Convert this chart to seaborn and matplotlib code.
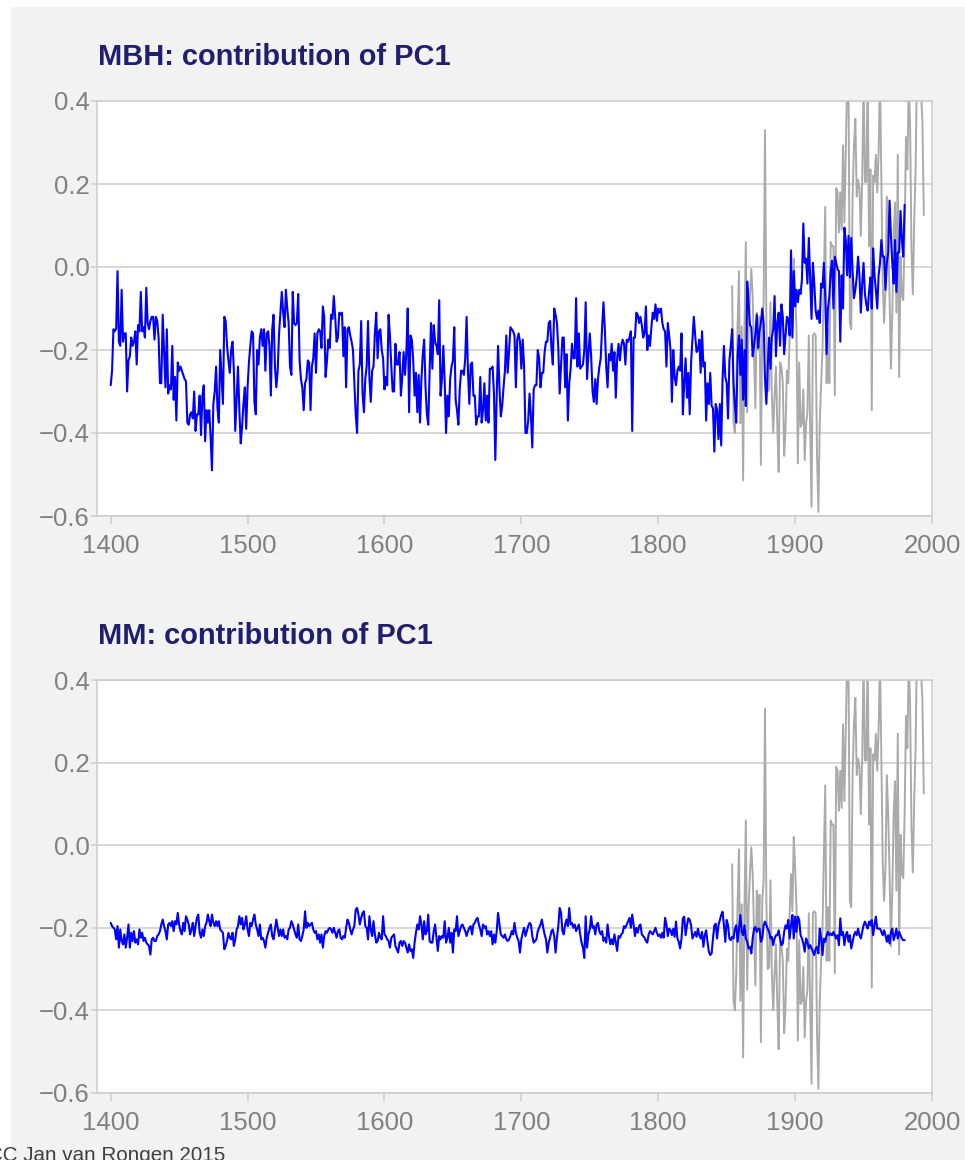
import numpy as np
import pandas as pd
import matplotlib
matplotlib.use("Agg")
import matplotlib.pyplot as plt
from matplotlib.patches import Rectangle
import seaborn as sns

# ---------------- data ----------------
start_year = 1400

mbh_1400 = [
    -0.285, -0.25, -0.15, -0.155, -0.148, -0.01, -0.18, -0.19, -0.055, -0.18,
    -0.16, -0.16, -0.30, -0.225, -0.215, -0.17, -0.19, -0.18, -0.155,
    -0.235, -0.14, -0.155, -0.06, -0.155, -0.145, -0.17, -0.05, -0.135, -0.15,
    -0.13, -0.12, -0.12, -0.175, -0.12, -0.13, -0.17, -0.28, -0.28, -0.115,
    -0.20, -0.29, -0.15, -0.305, -0.285, -0.295, -0.19, -0.32, -0.265, -0.37,
    -0.23, -0.25, -0.24, -0.25, -0.26, -0.27, -0.275, -0.375, -0.38,
    -0.355, -0.35, -0.365, -0.30, -0.395, -0.355, -0.355, -0.31, -0.405, -0.31,
    -0.285, -0.42, -0.345, -0.375, -0.345, -0.41, -0.49, -0.33, -0.30, -0.24,
    -0.34, -0.375, -0.20, -0.265, -0.33, -0.12, -0.13, -0.19, -0.225, -0.255,
    -0.20, -0.18, -0.25, -0.395, -0.32, -0.24, -0.345, -0.425, -0.385, -0.33,
    -0.29, -0.39, -0.29, -0.23, -0.19, -0.155, -0.16, -0.325, -0.355, -0.20,
    -0.235, -0.17, -0.15, -0.19, -0.15, -0.25, -0.16, -0.155, -0.19,
    -0.31, -0.15, -0.115, -0.24, -0.29, -0.25, -0.16, -0.11, -0.06,
    -0.11, -0.145, -0.055, -0.10, -0.135, -0.24, -0.26, -0.06, -0.135, -0.14,
    -0.135, -0.065, -0.225, -0.27, -0.29, -0.345, -0.28, -0.27, -0.225, -0.23,
    -0.345, -0.24, -0.22, -0.16, -0.255, -0.16, -0.15, -0.155, -0.195, -0.095,
    -0.12, -0.265, -0.225, -0.175, -0.195, -0.115, -0.125, -0.07, -0.12, -0.18,
    -0.17, -0.11, -0.115, -0.11, -0.215, -0.145, -0.29, -0.15, -0.145, -0.165,
    -0.18, -0.20, -0.28, -0.355, -0.40, -0.25, -0.235, -0.13, -0.305, -0.35,
    -0.27, -0.24, -0.13, -0.265, -0.325, -0.25, -0.24, -0.16, -0.11, -0.22, -0.155,
]
mbh_1597 = [
    -0.15, -0.20, -0.22, -0.295, -0.265, -0.285, -0.115, -0.165, -0.24, -0.30,
    -0.30, -0.185, -0.235, -0.235, -0.205, -0.31, -0.265, -0.205, -0.26, -0.205,
    -0.10, -0.35, -0.165, -0.175, -0.225, -0.31, -0.255, -0.35, -0.26, -0.375,
    -0.27, -0.21, -0.175, -0.29, -0.355, -0.38, -0.25, -0.135, -0.245, -0.14,
    -0.18, -0.19, -0.21, -0.08, -0.31, -0.27, -0.19, -0.275, -0.40,
    -0.31, -0.36, -0.27, -0.24, -0.225, -0.145, -0.32, -0.345, -0.38,
    -0.295, -0.25, -0.25, -0.26, -0.22, -0.12, -0.25, -0.33, -0.235,
    -0.23, -0.31, -0.31, -0.38, -0.36, -0.36, -0.265, -0.375, -0.345, -0.28,
    -0.37, -0.31, -0.375, -0.245, -0.245, -0.24, -0.305, -0.465, -0.31, -0.19,
    -0.29, -0.36, -0.335, -0.29, -0.25, -0.165, -0.255, -0.205, -0.145, -0.15,
    -0.155, -0.165, -0.29, -0.175, -0.16, -0.18, -0.245, -0.175, -0.24,
    -0.40, -0.40, -0.37, -0.305, -0.36, -0.435, -0.295, -0.285, -0.285, -0.20,
    -0.22, -0.29, -0.255, -0.255, -0.205, -0.18, -0.18, -0.135, -0.13, -0.195,
    -0.235, -0.10, -0.115, -0.135, -0.195, -0.305, -0.235, -0.17, -0.17,
    -0.29, -0.21, -0.37, -0.28, -0.245, -0.185, -0.22, -0.22, -0.075,
    -0.24, -0.16, -0.245, -0.24, -0.235, -0.20, -0.085, -0.27, -0.21, -0.16,
    -0.215, -0.30, -0.325, -0.27, -0.33, -0.27, -0.24, -0.22, -0.145, -0.085,
    -0.15, -0.24, -0.29, -0.21, -0.225, -0.185, -0.25, -0.205, -0.315,
    -0.22, -0.185, -0.225, -0.19, -0.175, -0.185, -0.235, -0.175, -0.18, -0.17,
    -0.155, -0.395, -0.17, -0.17, -0.11, -0.115, -0.135, -0.12, -0.14,
    -0.17, -0.16, -0.095, -0.20, -0.165, -0.19, -0.145, -0.11, -0.125, -0.09,
    -0.13, -0.10, -0.11, -0.10, -0.135, -0.15, -0.155, -0.24, -0.135,
]
mbh_1808 = [
    -0.165, -0.20, -0.325, -0.20, -0.265, -0.285, -0.25, -0.24, -0.25, -0.16,
    -0.355, -0.28, -0.22, -0.315, -0.255, -0.355, -0.23, -0.175, -0.12,
    -0.165, -0.205, -0.20, -0.175, -0.255, -0.155, -0.24, -0.23, -0.37, -0.28,
    -0.33, -0.255, -0.335, -0.34, -0.445, -0.33, -0.345, -0.415, -0.33, -0.43,
    -0.27, -0.19, -0.265, -0.28, -0.365, -0.225, -0.19, -0.15, -0.28, -0.335,
    -0.375, -0.215, -0.165, -0.26, -0.175, -0.32, -0.20, -0.335, -0.035,
    -0.085, -0.14, -0.145, -0.215, -0.19, -0.16, -0.115, -0.195, -0.155,
    -0.135, -0.10, -0.135, -0.27, -0.33, -0.24, -0.17, -0.245, -0.17, -0.15,
    -0.07, -0.215, -0.135, -0.11, -0.19, -0.09, -0.12, -0.21, -0.165, -0.12,
    -0.125, -0.165, 0.04, -0.17, -0.01, -0.095, -0.055, -0.085, -0.055, -0.065,
    -0.03, 0.105, 0.01, 0.02, -0.04, 0.07, -0.03, -0.125, 0.01, -0.04,
    -0.105, -0.125, -0.105, -0.135, -0.04, -0.05, 0.01, -0.07, -0.21, -0.10,
    -0.07, -0.01, 0.015, -0.10, 0.025, 0.01, -0.005, -0.01, -0.18,
    -0.02, -0.10, 0.095, 0.065, -0.02, 0.075, -0.025, 0.07, -0.01, -0.075,
    -0.055, -0.025, 0.025, -0.02, -0.11, -0.04, 0.01, -0.065, -0.09, -0.105,
    -0.06, -0.025, -0.10, 0.045, -0.02, -0.055, -0.10, -0.02, 0.01, 0.065,
    0.025, 0.025, -0.055, 0.01, 0.035, 0.16, 0.075, 0.01, -0.04, 0.065,
    -0.06, 0.035, 0.035, 0.135, 0.065, 0.025, 0.15,
]

mm_1400 = [
    -0.188, -0.196, -0.20, -0.204, -0.228, -0.196, -0.248, -0.204, -0.232, -0.24,
    -0.216, -0.248, -0.224, -0.192, -0.248, -0.212, -0.232, -0.208, -0.236, -0.228,
    -0.24, -0.204, -0.224, -0.212, -0.232, -0.224, -0.236, -0.24, -0.244, -0.265,
    -0.228, -0.224, -0.232, -0.232, -0.22, -0.216, -0.208, -0.192, -0.18,
    -0.196, -0.208, -0.228, -0.192, -0.188, -0.196, -0.184, -0.208, -0.184,
    -0.192, -0.164, -0.192, -0.208, -0.216, -0.188, -0.208, -0.172, -0.18, -0.192,
    -0.216, -0.204, -0.188, -0.22, -0.196, -0.176, -0.168, -0.212, -0.224, -0.204,
    -0.22, -0.196, -0.188, -0.168, -0.184, -0.196, -0.168, -0.188, -0.196,
    -0.184, -0.196, -0.184, -0.204, -0.208, -0.212, -0.252, -0.244, -0.232, -0.212,
    -0.224, -0.228, -0.212, -0.244, -0.228, -0.204, -0.196, -0.172, -0.192, -0.176,
    -0.204, -0.192, -0.172, -0.204, -0.22, -0.188, -0.196, -0.18, -0.168, -0.192,
    -0.204, -0.22, -0.192, -0.228, -0.224, -0.232, -0.248, -0.224, -0.212, -0.20,
    -0.192, -0.22, -0.228, -0.204, -0.18, -0.20, -0.22, -0.204, -0.22,
    -0.204, -0.224, -0.22, -0.228, -0.204, -0.20, -0.184, -0.192, -0.204, -0.216,
    -0.224, -0.192, -0.228, -0.232, -0.22, -0.204, -0.16, -0.20, -0.188, -0.196,
    -0.192, -0.188, -0.204, -0.212, -0.208, -0.228, -0.216, -0.236, -0.216,
    -0.248, -0.22, -0.208, -0.212, -0.204, -0.20, -0.204, -0.212, -0.20, -0.212,
    -0.224, -0.208, -0.204, -0.224, -0.228, -0.22, -0.224, -0.20, -0.18, -0.188,
    -0.204, -0.216, -0.204, -0.196, -0.156, -0.152, -0.168, -0.192, -0.176, -0.164,
    -0.16, -0.196, -0.20, -0.228, -0.172, -0.204, -0.22, -0.184, -0.216, -0.236,
    -0.232, -0.212, -0.224, -0.228, -0.172, -0.216, -0.22, -0.228, -0.232,
    -0.248, -0.224, -0.22, -0.216, -0.244, -0.252, -0.26,
]
mm_1611 = [
    -0.236, -0.232, -0.244, -0.232, -0.236, -0.248, -0.26, -0.24, -0.256, -0.252,
    -0.273, -0.236, -0.212, -0.192, -0.204, -0.172, -0.192, -0.228, -0.184, -0.216,
    -0.208, -0.168, -0.232, -0.236, -0.236, -0.208, -0.192, -0.224,
    -0.256, -0.22, -0.228, -0.22, -0.224, -0.184, -0.236, -0.224, -0.20, -0.236,
    -0.212, -0.26, -0.204, -0.208, -0.172, -0.22, -0.208, -0.196, -0.192, -0.20,
    -0.208, -0.22, -0.208, -0.20, -0.196, -0.216, -0.192, -0.188, -0.18, -0.176,
    -0.192, -0.204, -0.22, -0.192, -0.20, -0.196, -0.216, -0.208,
    -0.22, -0.208, -0.24, -0.216, -0.236, -0.208, -0.164, -0.192, -0.216, -0.22,
    -0.224, -0.216, -0.228, -0.232, -0.228, -0.22, -0.208, -0.216, -0.188, -0.212,
    -0.224, -0.232, -0.26, -0.228, -0.212, -0.20, -0.22, -0.208, -0.196, -0.188,
    -0.192, -0.22, -0.236, -0.232, -0.228, -0.208, -0.20, -0.192, -0.18, -0.20,
    -0.216, -0.228, -0.26, -0.236, -0.224, -0.208, -0.204, -0.22, -0.26, -0.224,
    -0.196, -0.152, -0.164, -0.208, -0.216, -0.192, -0.18, -0.196, -0.152, -0.192,
    -0.188, -0.20, -0.192, -0.208, -0.20, -0.192, -0.216, -0.236, -0.248,
    -0.273, -0.172, -0.248, -0.216, -0.204, -0.172, -0.20, -0.196, -0.216, -0.192,
    -0.188, -0.208, -0.216, -0.208, -0.232, -0.224, -0.236, -0.192, -0.22, -0.24,
    -0.228, -0.24, -0.216, -0.236, -0.256, -0.22, -0.224, -0.216, -0.212, -0.196,
    -0.20, -0.192, -0.184, -0.176, -0.20, -0.168, -0.192, -0.22, -0.20,
    -0.212, -0.196, -0.192, -0.216, -0.22, -0.224, -0.232, -0.236, -0.216, -0.208,
    -0.212, -0.216, -0.208, -0.20, -0.212, -0.22, -0.216, -0.224, -0.212, -0.224,
    -0.176, -0.192, -0.22,
]
mm_1808 = [
    -0.202, -0.206, -0.218, -0.202, -0.222, -0.185, -0.226, -0.234, -0.25, -0.226,
    -0.177, -0.173, -0.218, -0.194, -0.177, -0.181, -0.194, -0.226, -0.218,
    -0.21, -0.222, -0.202, -0.218, -0.226, -0.21, -0.246, -0.218, -0.206, -0.234,
    -0.258, -0.266, -0.262, -0.226, -0.194, -0.19, -0.226, -0.194, -0.181, -0.169,
    -0.161, -0.194, -0.234, -0.181, -0.194, -0.226, -0.23, -0.222, -0.226,
    -0.202, -0.194, -0.234, -0.202, -0.169, -0.21, -0.218, -0.194, -0.226, -0.234,
    -0.25, -0.246, -0.262, -0.226, -0.202, -0.198, -0.21, -0.202, -0.202,
    -0.234, -0.226, -0.194, -0.185, -0.194, -0.202, -0.21, -0.226, -0.222, -0.242,
    -0.226, -0.218, -0.218, -0.206, -0.226, -0.242, -0.238, -0.21, -0.194, -0.202,
    -0.181, -0.226, -0.194, -0.169, -0.226, -0.173, -0.21, -0.173, -0.181, -0.218,
    -0.226, -0.238, -0.258, -0.226, -0.234, -0.25, -0.242, -0.25, -0.258, -0.266,
    -0.25, -0.246, -0.262, -0.202, -0.226, -0.266, -0.226, -0.234, -0.218, -0.21,
    -0.218, -0.214, -0.218, -0.21, -0.218, -0.226, -0.218, -0.242, -0.177,
    -0.218, -0.21, -0.242, -0.218, -0.21, -0.234, -0.218, -0.25, -0.234, -0.218,
    -0.21, -0.218, -0.202, -0.218, -0.226, -0.21, -0.194, -0.185, -0.194, -0.202,
    -0.185, -0.194, -0.181, -0.218, -0.194, -0.173, -0.202, -0.202, -0.202, -0.21,
    -0.218, -0.206, -0.218, -0.234, -0.218, -0.238, -0.21, -0.202, -0.23, -0.218,
    -0.202, -0.226, -0.21, -0.218, -0.226, -0.23, -0.23,
]

instr_start = 1854
instrumental = [
    -0.046, -0.377, -0.40, -0.31, -0.135, -0.01, -0.377, -0.143, -0.514, -0.15,
    0.06, -0.35, -0.15, -0.07, -0.005, -0.07, -0.215, -0.34, -0.11, -0.20,
    -0.12, -0.477, -0.135, -0.085, 0.33, -0.135, -0.30, -0.295, -0.085, -0.31,
    -0.40, -0.31, -0.24, -0.385, -0.494, -0.23, -0.24, -0.28, -0.455, -0.39,
    -0.25, -0.28, -0.165, -0.07, -0.16, 0.02, -0.055, -0.15, -0.473, -0.23,
    -0.385, -0.377, -0.295, -0.465, -0.377, -0.35, -0.165, -0.385, -0.578, -0.165,
    -0.16, -0.165, -0.455, -0.59, -0.377, -0.28, -0.20, -0.022, 0.145, -0.28,
    -0.15, -0.28, 0.06, 0.05, 0.05, -0.31, 0.19, 0.18, 0.083, 0.18,
    0.09, 0.293, 0.107, 0.285, 0.45, 0.44, -0.135, -0.15, 0.17, 0.293,
    0.357, 0.17, 0.21, 0.19, 0.075, 0.21, 0.45, 0.205, 0.205, 0.47,
    0.05, 0.235, -0.345, 0.22, 0.205, 0.27, 0.18, 0.277, 0.46, 0.22,
    -0.038, -0.135, -0.055, 0.17, 0.075, -0.07, -0.245, -0.11, 0.075, 0.155,
    -0.11, 0.27, -0.265, 0.025, -0.07, -0.08, 0.075, 0.313, 0.235, 0.45,
    0.34, 0.043, -0.066, 0.107, 0.235, 0.47, 0.50, 0.45, 0.42, 0.35,
    0.125,
]

titles = ["MBH: contribution of PC1", "MM: contribution of PC1"]
x_ticks = [1400, 1500, 1600, 1700, 1800, 1900, 2000]
y_ticks = [-0.6, -0.4, -0.2, 0.0, 0.2, 0.4]
credit = "CC Jan van Rongen 2015"

mbh = mbh_1400 + mbh_1597 + mbh_1808
mm = mm_1400 + mm_1611 + mm_1808
df_mbh = pd.DataFrame({"year": start_year + np.arange(len(mbh)), "value": mbh})
df_mm = pd.DataFrame({"year": start_year + np.arange(len(mm)), "value": mm})
df_instr = pd.DataFrame({"year": instr_start + np.arange(len(instrumental)),
                         "value": instrumental})

# ---------------- style ----------------
sns.set_style("white")
plt.rcParams["font.family"] = ["Liberation Sans", "DejaVu Sans"]
plt.rcParams["axes.unicode_minus"] = True

W, H = 965, 1160
fig = plt.figure(figsize=(W / 100, H / 100), dpi=100, facecolor="white")
bg = Rectangle((11 / W, 0), 1 - 11 / W, 1 - 7 / H, transform=fig.transFigure,
               facecolor="#f2f2f2", edgecolor="none", zorder=-10)
fig.patches.append(bg)

grid_c = "#cccccc"
label_c = "#808080"
title_c = "#1f1f6e"

panels = [(101, 516, df_mbh, titles[0]), (680, 1093, df_mm, titles[1])]
for top, bottom, df_blue, title in panels:
    ax = fig.add_axes([97 / W, 1 - bottom / H, (932 - 97) / W, (bottom - top) / H])
    ax.set_zorder(1)
    ax.set_facecolor("white")
    ax.set_axisbelow(True)
    sns.lineplot(data=df_instr, x="year", y="value", ax=ax, color="#aaaaaa",
                 linewidth=1.4, estimator=None)
    sns.lineplot(data=df_blue, x="year", y="value", ax=ax, color="#0000ff",
                 linewidth=1.5, estimator=None)
    ax.set_xlim(1390, 2000)
    ax.set_ylim(-0.6, 0.4)
    ax.set_xticks(x_ticks)
    ax.set_xticklabels([str(t) for t in x_ticks])
    ax.set_yticks(y_ticks)
    ax.set_yticklabels([f"{v:.1f}".replace("-", "\u2212") for v in y_ticks])
    ax.set_xlabel("")
    ax.set_ylabel("")
    ax.yaxis.grid(True, color=grid_c, linewidth=1.1)
    ax.xaxis.grid(False)
    for s in ax.spines.values():
        s.set_color(grid_c)
        s.set_linewidth(1.1)
    ax.tick_params(axis="x", direction="out", length=5.8, width=1.1, color=grid_c,
                   labelcolor=label_c, labelsize=18.5, pad=7, bottom=True)
    ax.tick_params(axis="y", direction="out", length=4.5, width=1.1, color=grid_c,
                   labelcolor=label_c, labelsize=18.5, pad=0.8, left=True)
    fig.text(98 / W, 1 - (top - 36) / H, title, fontsize=20.9, fontweight="bold",
             color=title_c, ha="left", va="baseline")

fig.text(-12 / W, 1 - 1161 / H, credit, fontsize=14.9, color="#404040",
         ha="left", va="baseline")

fig.savefig("out.png", dpi=100, facecolor=fig.get_facecolor())
